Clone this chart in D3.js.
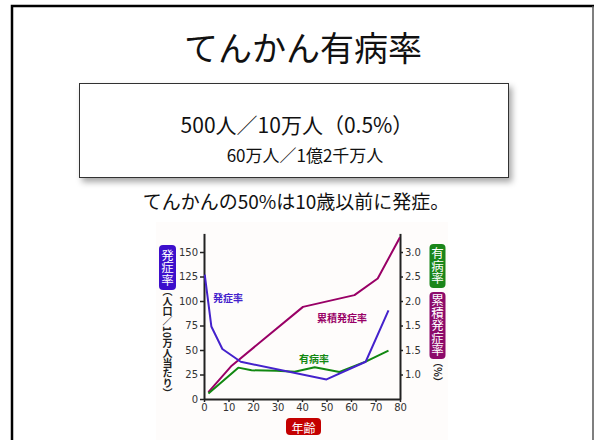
<!DOCTYPE html>
<html><head><meta charset="utf-8">
<script src="https://cdn.jsdelivr.net/npm/d3@7"></script>
<style>html,body{margin:0;padding:0;background:#fff;}svg{display:block;}</style>
</head><body>
<svg id="c" width="594" height="440"></svg>
<script>
// ---- data ----
const xTicks = [0,10,20,30,40,50,60,70,80];
const leftTicks = [0,25,50,75,100,125,150];
const rightTickPos = [25,50,75,100,125,150];
const rightTickLabels = ["1.0","1.5","1.5","2.0","2.5","3.0"];
const onsetAge = [0.3,3,7.5,15,50,66,75.3];
const onsetVal = [127,74,51,38,20,38,90.5];
const cumAge = [1.8,11.3,40.4,61.4,70.9,80];
const cumVal = [7,34,94,106,123,165];
const prevAge = [1.8,14,19.4,29.6,37,45.2,55.3,66.2,75.3];
const prevVal = [5.5,32,29.3,28.8,27.8,32.3,27.6,38.4,49.3];
const seriesNames = ["発症率","累積発症率","有病率"];
const colors = {onset:"#4422cc", cum:"#990066", prev:"#118811"};

const svg = d3.select("#c");
const JP = "'Noto Sans CJK JP','Noto Sans',sans-serif";

// drop shadow filter
const defs = svg.append("defs");
const f = defs.append("filter").attr("id","sh").attr("x","-10%").attr("y","-10%").attr("width","130%").attr("height","140%");
f.append("feDropShadow").attr("dx",3).attr("dy",4).attr("stdDeviation",3).attr("flood-color","#000").attr("flood-opacity",0.35);

// frame
svg.append("path").attr("d","M12,441 L12,6 L594,6").attr("fill","none").attr("stroke","#000").attr("stroke-width",2.5);
svg.append("line").attr("x1",593).attr("x2",593).attr("y1",6).attr("y2",441).attr("stroke","#555").attr("stroke-width",1.5);

// title
svg.append("text").attr("x",303).attr("y",61).attr("text-anchor","middle")
  .attr("font-family",JP).attr("font-size",34).attr("fill","#111").text("てんかん有病率");

// box
svg.append("rect").attr("x",79.5).attr("y",83.5).attr("width",429).attr("height",94)
  .attr("fill","#fff").attr("stroke","#333").attr("stroke-width",1).attr("filter","url(#sh)");
svg.append("text").attr("x",297).attr("y",133).attr("text-anchor","middle")
  .attr("font-family",JP).attr("font-size",21).attr("fill","#111").text("500人／10万人（0.5%）");
svg.append("text").attr("x",305).attr("y",162).attr("text-anchor","middle")
  .attr("font-family",JP).attr("font-size",17).attr("fill","#111").text("60万人／1億2千万人");

svg.append("text").attr("x",296).attr("y",209).attr("text-anchor","middle")
  .attr("font-family",JP).attr("font-size",19).attr("fill","#111").text("てんかんの50%は10歳以前に発症。");

// chart background
svg.append("rect").attr("x",156).attr("y",222).attr("width",292).attr("height",218).attr("fill","#fefcfb");

// scales
const x = d3.scaleLinear().domain([0,80]).range([204,400]);
const y = d3.scaleLinear().domain([0,169]).range([399,233.4]);

const NUM = "'DejaVu Sans',sans-serif";
function styleAxis(g){
  g.select(".domain").attr("stroke","#222").attr("stroke-width",2);
  g.selectAll(".tick line").attr("stroke","#222").attr("stroke-width",1.5);
  g.selectAll(".tick text").attr("font-family",NUM).attr("font-size",10).attr("fill","#333");
}
svg.append("g").attr("transform","translate(204,0)")
  .call(d3.axisLeft(y).tickValues(leftTicks).tickSize(4).tickPadding(2).tickSizeOuter(0)).call(styleAxis);
svg.append("g").attr("transform","translate(400,0)")
  .call(d3.axisRight(y).tickValues(rightTickPos).tickFormat((d,i)=>rightTickLabels[i]).tickSize(3).tickPadding(2).tickSizeOuter(0)).call(styleAxis);
svg.append("g").attr("transform","translate(0,399)")
  .call(d3.axisBottom(x).tickValues(xTicks).tickSize(3).tickPadding(2).tickSizeOuter(0)).call(styleAxis);

// lines
const clip = defs.append("clipPath").attr("id","pc");
clip.append("rect").attr("x",204).attr("y",233.4).attr("width",196).attr("height",166);
const line = d3.line().x(d=>x(d[0])).y(d=>y(d[1]));
const series = [
  {a:cumAge, v:cumVal, c:colors.cum},
  {a:prevAge, v:prevVal, c:colors.prev},
  {a:onsetAge, v:onsetVal, c:colors.onset}
];
series.forEach(s=>{
  svg.append("path").datum(d3.zip(s.a,s.v)).attr("d",line).attr("fill","none")
    .attr("stroke",s.c).attr("stroke-width",2).attr("stroke-linejoin","round").attr("clip-path","url(#pc)");
});

// in-plot labels
svg.append("text").attr("x",213).attr("y",302).attr("font-family",JP).attr("font-weight","bold")
  .attr("font-size",10).attr("fill",colors.onset).text(seriesNames[0]);
svg.append("text").attr("x",317).attr("y",322).attr("font-family",JP).attr("font-weight","bold")
  .attr("font-size",10).attr("fill",colors.cum).text(seriesNames[1]);
svg.append("text").attr("x",299).attr("y",363).attr("font-family",JP).attr("font-weight","bold")
  .attr("font-size",10).attr("fill",colors.prev).text(seriesNames[2]);

// vertical label boxes
function vbox(cx, y0, h, w, fill, txt, fs){
  svg.append("rect").attr("x",cx-w/2).attr("y",y0).attr("width",w).attr("height",h).attr("rx",4).attr("fill",fill);
  svg.append("text").attr("x",cx).attr("y",y0+h/2).attr("text-anchor","middle")
    .attr("dominant-baseline","central")
    .style("writing-mode","vertical-rl").attr("font-family",JP).attr("font-size",fs).attr("fill","#fff").text(txt);
}
vbox(167.5, 245, 45, 17, "#3d0fcc", seriesNames[0], 12.5);
vbox(437.5, 244, 44, 16, "#1a861a", seriesNames[2], 12.5);
vbox(437.5, 292, 67, 16, "#8c0a6a", seriesNames[1], 12.5);

function vtext(cx, yc, txt, fs){
  svg.append("text").attr("x",cx).attr("y",yc).attr("text-anchor","middle")
    .style("writing-mode","vertical-rl").attr("font-family",JP).attr("font-weight","bold")
    .attr("font-size",fs).attr("fill","#222").text(txt);
}
vtext(167.5, 342, "（人口／10万人当たり）", 10);
vtext(438, 372, "（%）", 10);

// x label box
svg.append("rect").attr("x",286).attr("y",418).attr("width",35).attr("height",17).attr("rx",4).attr("fill","#c40000");
svg.append("text").attr("x",303.5).attr("y",427).attr("text-anchor","middle").attr("dominant-baseline","central")
  .attr("font-family",JP).attr("font-size",12).attr("fill","#fff").text("年齢");
</script>
</body></html>
